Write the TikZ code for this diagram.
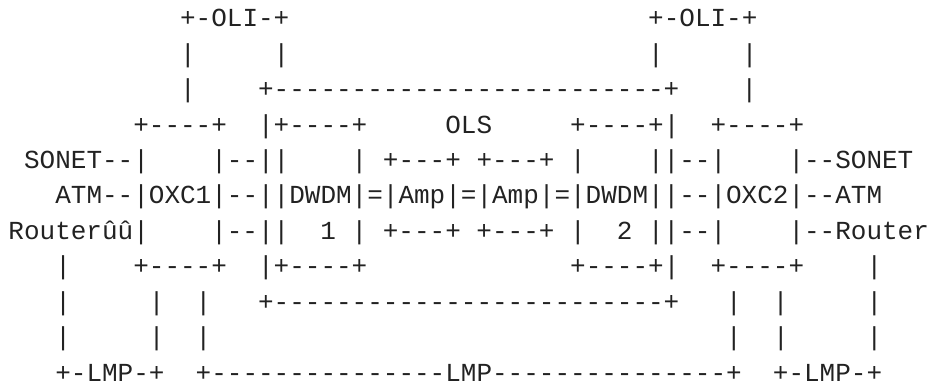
\documentclass[tikz,border=0pt]{standalone}
\usepackage{fontspec}
\setmonofont{Liberation Mono}
\definecolor{ink}{HTML}{222222}
\newcommand\gp[1]{\kern#1\fontcharwd\font`x\relax}
\tikzset{
  asciiline/.style={anchor=base west, inner sep=0pt, outer sep=0pt, text=ink,
    font=\ttfamily\fontsize{26pt}{30pt}\selectfont}
}
\begin{document}
\begin{tikzpicture}[x=1pt,y=-1pt]
\useasboundingbox (0,0) rectangle (927,385);
\def\xo{8.5}
\node[asciiline] (l1) at (\xo,27.0) {\gp{11}+-OLI-+\gp{23}+-OLI-+};
\node[asciiline] (l2) at (\xo,62.4) {\gp{11}|\gp{5}|\gp{23}|\gp{5}|};
\node[asciiline] (l3) at (\xo,97.8) {\gp{11}|\gp{4}+-------------------------+\gp{4}|};
\node[asciiline] (l4) at (\xo,133.2) {\gp{8}+----+\gp{2}|+----+\gp{5}OLS\gp{5}+----+|\gp{2}+----+};
\node[asciiline] (l5) at (\xo,168.6) {\gp{1}SONET--|\gp{4}|--||\gp{4}|\gp{1}+---+\gp{1}+---+\gp{1}|\gp{4}||--|\gp{4}|--SONET};
\node[asciiline] (l6) at (\xo,204.0) {\gp{3}ATM--|OXC1|--||DWDM|=|Amp|=|Amp|=|DWDM||--|OXC2|--ATM};
\node[asciiline] (l7) at (\xo,239.4) {Routerûû|\gp{4}|--||\gp{2}1\gp{1}|\gp{1}+---+\gp{1}+---+\gp{1}|\gp{2}2\gp{1}||--|\gp{4}|--Router};
\node[asciiline] (l8) at (\xo,274.8) {\gp{3}|\gp{4}+----+\gp{2}|+----+\gp{13}+----+|\gp{2}+----+\gp{4}|};
\node[asciiline] (l9) at (\xo,310.2) {\gp{3}|\gp{5}|\gp{2}|\gp{3}+-------------------------+\gp{3}|\gp{2}|\gp{5}|};
\node[asciiline] (l10) at (\xo,345.6) {\gp{3}|\gp{5}|\gp{2}|\gp{33}|\gp{2}|\gp{5}|};
\node[asciiline] (l11) at (\xo,381.0) {\gp{3}+-LMP-+\gp{2}+---------------LMP---------------+\gp{2}+-LMP-+};
\end{tikzpicture}
\end{document}
